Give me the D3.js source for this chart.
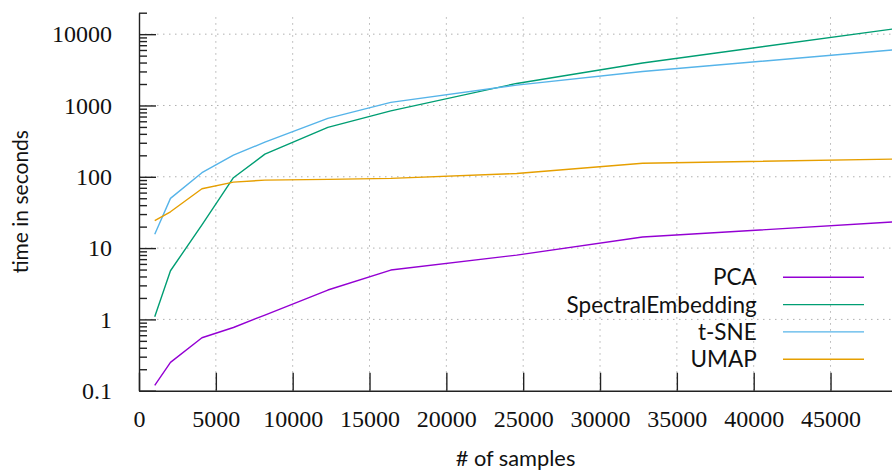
<!DOCTYPE html>
<html>
<head>
<meta charset="utf-8">
<script src="https://cdn.jsdelivr.net/npm/d3@7"></script>
<style>
  html, body { margin: 0; padding: 0; background: #fff; }
  svg { display: block; }
</style>
</head>
<body>
<svg id="chart" width="892" height="475"></svg>
<script>
// Sample sizes (x values)
const samples = [1024, 2048, 4096, 6144, 8192, 12288, 16384, 24576, 32768, 49152];

// Runtime in seconds per method
const pca = [0.119, 0.25, 0.553, 0.77, 1.15, 2.58, 4.92, 7.98, 14.3, 23.3];
const spectral = [1.09, 4.81, 21.2, 97, 208, 492, 841, 2037, 3935, 11900];
const tsne = [15.6, 49.8, 114, 201, 306, 658, 1104, 1928, 2990, 6030];
const umap = [24.2, 32.3, 67.9, 84.2, 89.8, 91.9, 94.9, 111, 155, 177];

// Series names, in legend order
const names = ["PCA", "SpectralEmbedding", "t-SNE", "UMAP"];
const colors = ["#9400d3", "#009e73", "#56b4e9", "#e69f00"];

// Tick values
const xTicks = [0, 5000, 10000, 15000, 20000, 25000, 30000, 35000, 40000, 45000];
const yTicks = [0.1, 1, 10, 100, 1000, 10000];

const series = [pca, spectral, tsne, umap].map((values, i) => ({
  name: names[i],
  color: colors[i],
  points: samples.map((s, j) => ({ x: s, y: values[j] })),
}));

// Plot area
const plotLeft = 139, plotRight = 892, plotTop = 12.7, plotBottom = 390.7;

const svg = d3.select("#chart");

const x = d3.scaleLinear().domain([0, 49000]).range([plotLeft, plotRight]);
const y = d3.scaleLog().domain([0.1, 20000]).range([plotBottom, plotTop]);

// Minor ticks for the log axis: 2..9 times each decade
const yMinor = [];
for (let d = 0.1; d < 20000; d *= 10) {
  for (let k = 2; k <= 9; k++) {
    const v = +(d * k).toPrecision(3);
    if (v <= 20000) yMinor.push(v);
  }
}

// Grid
const grid = svg.append("g")
  .attr("stroke", "#b0b0b0")
  .attr("stroke-width", 1)
  .attr("stroke-dasharray", "1.5,4.5");

grid.selectAll("line.vx")
  .data(xTicks.filter((d) => d > 0))
  .join("line")
  .attr("class", "vx")
  .attr("x1", (d) => x(d)).attr("x2", (d) => x(d))
  .attr("y1", plotBottom).attr("y2", plotTop);

grid.selectAll("line.hy")
  .data(yTicks.filter((d) => d > 0.1))
  .join("line")
  .attr("class", "hy")
  .attr("x1", plotLeft).attr("x2", plotRight)
  .attr("y1", (d) => y(d)).attr("y2", (d) => y(d));

// Clip lines to plot area
svg.append("clipPath").attr("id", "clip")
  .append("rect")
  .attr("x", plotLeft).attr("y", plotTop)
  .attr("width", plotRight - plotLeft).attr("height", plotBottom - plotTop);

const line = d3.line().x((d) => x(d.x)).y((d) => y(d.y));

svg.append("g")
  .attr("clip-path", "url(#clip)")
  .selectAll("path")
  .data(series)
  .join("path")
  .attr("fill", "none")
  .attr("stroke", (d) => d.color)
  .attr("stroke-width", 1.4)
  .attr("stroke-linejoin", "round")
  .attr("d", (d) => line(d.points));

// Y axis (ticks point inward)
svg.append("g")
  .attr("transform", `translate(${plotLeft},0)`)
  .call(d3.axisLeft(y)
    .tickValues(yTicks)
    .tickSize(-17)
    .tickSizeOuter(0)
    .tickPadding(27)
    .tickFormat((d) => (d < 1 ? "0.1" : d3.format("d")(d))));

svg.append("g")
  .attr("transform", `translate(${plotLeft},0)`)
  .call(d3.axisLeft(y).tickValues(yMinor).tickSize(-8).tickFormat(""))
  .call((g) => g.select(".domain").remove());

// X axis
const xAxis = svg.append("g")
  .attr("transform", `translate(0,${plotBottom})`)
  .call(d3.axisBottom(x)
    .tickValues(xTicks)
    .tickSize(-18)
    .tickSizeOuter(0)
    .tickFormat(d3.format("d")));

xAxis.selectAll("text").attr("y", 36).attr("dy", null);

svg.selectAll(".domain, .tick line")
  .attr("stroke", "#222")
  .attr("stroke-width", 1.4);

svg.selectAll(".tick text")
  .attr("fill", "#111")
  .attr("font-family", "'Liberation Serif', serif")
  .attr("font-size", 24);

// Axis titles
const sans = "Lato, 'Open Sans', sans-serif";

svg.append("text")
  .attr("x", (plotLeft + plotRight) / 2)
  .attr("y", 466)
  .attr("text-anchor", "middle")
  .attr("font-family", sans)
  .attr("font-size", 21.8)
  .attr("fill", "#111")
  .text("# of samples");

svg.append("text")
  .attr("transform", `translate(28,${(plotTop + plotBottom) / 2}) rotate(-90)`)
  .attr("text-anchor", "middle")
  .attr("font-family", sans)
  .attr("font-size", 21)
  .attr("fill", "#111")
  .text("time in seconds");

// Legend
const legend = svg.append("g")
  .selectAll("g")
  .data(series)
  .join("g")
  .attr("transform", (d, i) => `translate(0,${277.3 + i * 27.3})`);

legend.append("text")
  .attr("x", 756.7)
  .attr("dy", "0.36em")
  .attr("text-anchor", "end")
  .attr("font-family", sans)
  .attr("font-size", 22.5)
  .attr("fill", "#111")
  .text((d) => d.name);

legend.append("line")
  .attr("x1", 783).attr("x2", 864)
  .attr("stroke", (d) => d.color)
  .attr("stroke-width", 1.4);
</script>
</body>
</html>
